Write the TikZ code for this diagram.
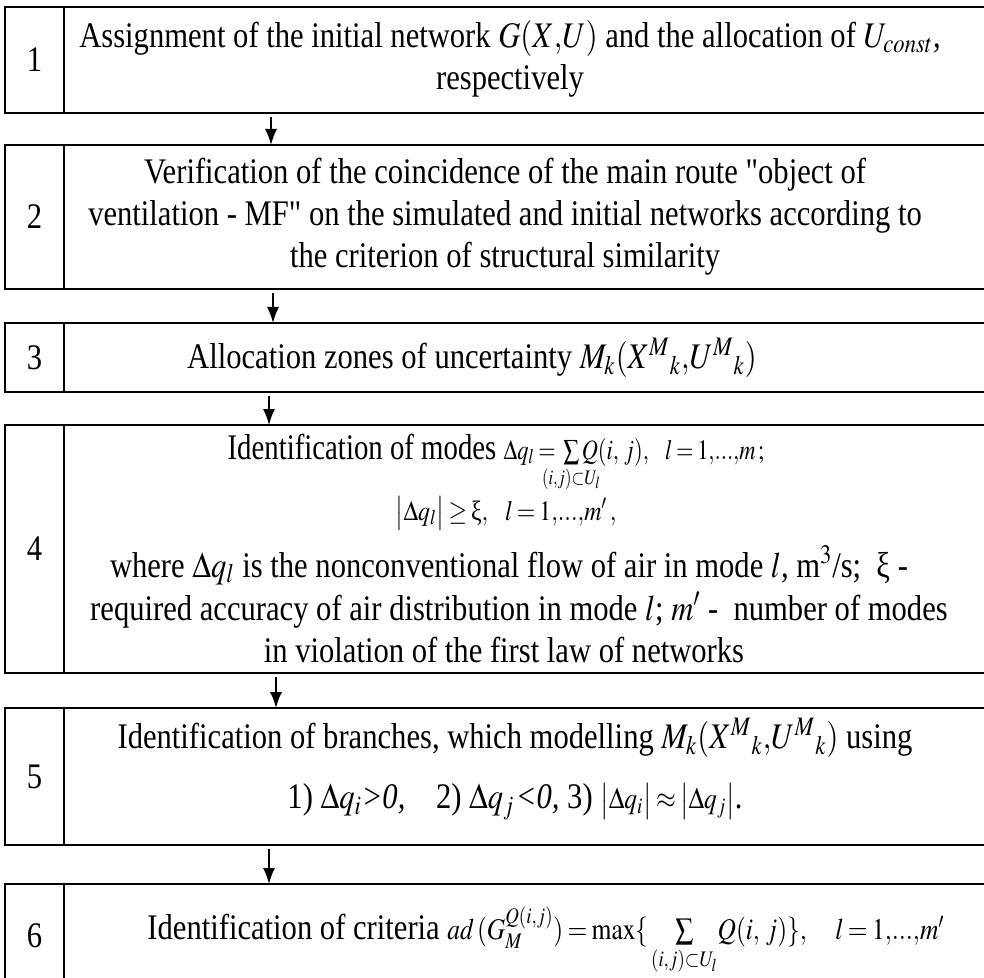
\documentclass[tikz,border=0pt]{standalone}
\usepackage{mathptmx}
\usepackage{fontspec}
\setmainfont{Liberation Serif}[Ligatures=TeXOff]
\usepackage{graphicx}
\usetikzlibrary{arrows.meta}

\newcommand{\narrowtext}[1]{\scalebox{0.85}[1]{#1}}
\newcommand{\smallmath}[1]{{\fontsize{15}{18}\selectfont
  \thickmuskip=3mu\medmuskip=2mu$#1$}}
\newcommand{\tinymath}[1]{{\fontsize{14}{17}\selectfont
  \thickmuskip=3mu\medmuskip=2mu$#1$}}
\newcommand{\clapsub}[1]{\makebox[0pt]{$\scriptstyle #1$}}

\tikzset{
  numcell/.style={draw, line width=1.2pt, outer sep=0pt, minimum width=29.5pt, inner sep=0pt, font=\fontsize{18}{21}\selectfont},
  textcell/.style={draw, line width=1.2pt, outer sep=0pt, minimum width=473pt, inner sep=0pt},
  steptext/.style={inner sep=0pt, font=\fontsize{18}{21}\selectfont},
  stepline/.style={steptext, anchor=base},
  flow/.style={-{Latex[length=8pt,width=6pt]}, line width=0.8pt, shorten <=2pt}
}

\begin{document}
\begin{tikzpicture}[x=0.5pt, y=-0.5pt]
\useasboundingbox (0,0) rectangle (984,978);
\clip (0,0) rectangle (984,978);

% step 1
\node[numcell, minimum height=53pt] (n1) at (34.5,60) {\narrowtext{1}};
\node[textcell, minimum height=53pt, anchor=west] (c1) at (n1.east) {};
\node[steptext] (t1) at (510,60) {\narrowtext{\begin{tabular}{@{}c@{}}
  Assignment of the initial network $G(X{,}U)$ and the allocation of $U_{const}$,\\
  respectively\end{tabular}}};

% step 2
\node[numcell, minimum height=72pt] (n2) at (34.5,217) {\narrowtext{2}};
\node[textcell, minimum height=72pt, anchor=west] (c2) at (n2.east) {};
\node[steptext] (t2) at (505,217) {\narrowtext{\begin{tabular}{@{}c@{}}
  Verification of the coincidence of the main route "object of\\
  ventilation - MF" on the simulated and initial networks according to\\
  the criterion of structural similarity\end{tabular}}};

% step 3
\node[numcell, minimum height=34.5pt] (n3) at (34.5,357.5) {\narrowtext{3}};
\node[textcell, minimum height=34.5pt, anchor=west] (c3) at (n3.east) {};
\node[steptext] (t3) at (472,357.5) {\narrowtext{Allocation zones of uncertainty $M_k(X^M{}_k{,}U^M{}_k)$}};

% step 4
\node[numcell, minimum height=124pt] (n4) at (34.5,549) {\narrowtext{4}};
\node[textcell, minimum height=124pt, anchor=west] (c4) at (n4.east) {};
\node[stepline] (t4a) at (496,459) {\scalebox{0.8}[1]{Identification of modes \tinymath{\Delta q_l = \;\sum\limits_{\clapsub{(i,j)\subset U_l}} Q(i,\,j),\hspace{0.6em} l=1{,}...{,}m\,;}}};
\node[stepline] (t4b) at (506,520) {\narrowtext{\tinymath{\bigl|\Delta q_l\bigr| \geq \mbox{ξ},\hspace{0.6em} l=1{,}...{,}m'\,,}}};
\node[stepline] (t4c) at (509,577) {\narrowtext{where $\Delta q_l$ is the nonconventional flow of air in mode $l$, m$^3$/s;\ \ ξ -}};
\node[stepline] (t4d) at (519,620) {\narrowtext{required accuracy of air distribution in mode $l$; $m'$ -\ \ number of modes}};
\node[stepline] (t4e) at (504,662) {\narrowtext{in violation of the first law of networks}};

% step 5
\node[numcell, minimum height=68.5pt] (n5) at (34.5,776.5) {\narrowtext{5}};
\node[textcell, minimum height=68.5pt, anchor=west] (c5) at (n5.east) {};
\node[steptext] (t5) at (515,770) {\narrowtext{\begin{tabular}{@{}c@{}}
  Identification of branches, which modelling $M_k(X^M{}_k{,}U^M{}_k)$ using\\[9pt]
  1) $\Delta q_i$\textit{>0,}\quad 2) $\Delta q_j$\kern1pt\textit{<0,}\ 3) \smallmath{\bigl|\Delta q_i\bigr| \approx \bigl|\Delta q_j\bigr|}.\end{tabular}}};

% step 6
\node[numcell, minimum height=52pt] (n6) at (34.5,936) {\narrowtext{6}};
\node[textcell, minimum height=52pt, anchor=west] (c6) at (n6.east) {};
\node[steptext] (t6) at (546,941) {\narrowtext{Identification of criteria
  \smallmath{ad\,(G_M^{Q(i,j)}) = \max\{\,\sum\limits_{(i,j)\subset U_l}\! Q(i,\,j)\},\quad l=1{,}...{,}m'}}};

% arrows
\coordinate (a1) at (271,0);
\coordinate (a2) at (273,0);
\coordinate (a3) at (269,0);
\coordinate (a4) at (276,0);
\coordinate (a5) at (269,0);
\draw[flow] (c1.south -| a1) -- (c2.north -| a1);
\draw[flow] (c2.south -| a2) -- (c3.north -| a2);
\draw[flow] (c3.south -| a3) -- (c4.north -| a3);
\draw[flow] (c4.south -| a4) -- (c5.north -| a4);
\draw[flow] (c5.south -| a5) -- (c6.north -| a5);
\end{tikzpicture}
\end{document}
